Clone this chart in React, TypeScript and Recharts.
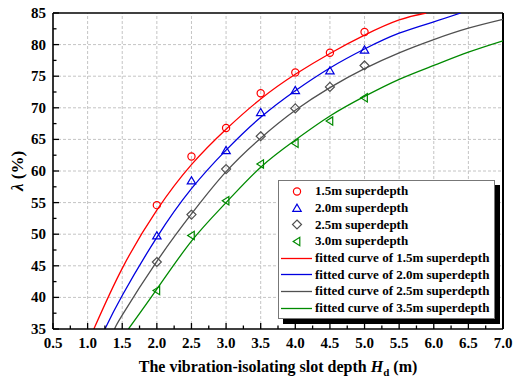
import React from 'react';
import { ComposedChart, Line, Scatter, XAxis, YAxis, ReferenceLine, Legend } from 'recharts';

// measured points (slot depth in m, lambda in %)
const depths = [2.0, 2.5, 3.0, 3.5, 4.0, 4.5, 5.0];
const measured15 = [54.6, 62.3, 66.8, 72.3, 75.6, 78.7, 82.0];
const measured20 = [49.7, 58.4, 63.2, 69.2, 72.7, 75.8, 79.1];
const measured25 = [45.6, 53.1, 60.3, 65.5, 69.9, 73.3, 76.7];
const measured30 = [41.1, 49.8, 55.3, 61.1, 64.4, 67.9, 71.6];

// fitted curves
const fitX15 = [1.09, 1.5, 2.0, 2.5, 3.0, 3.5, 4.0, 4.5, 5.0, 5.5, 5.89];
const fitY15 = [35, 44.6, 53.8, 61.0, 66.6, 71.4, 75.3, 78.6, 81.5, 83.9, 85];
const fitX20 = [1.25, 1.5, 2.0, 2.5, 3.0, 3.5, 4.0, 4.5, 5.0, 5.5, 6.0, 6.39];
const fitY20 = [35, 40.3, 49.5, 57.2, 63.3, 68.5, 72.7, 76.3, 79.3, 81.8, 83.6, 85];
const fitX25 = [1.39, 1.5, 2.0, 2.5, 3.0, 3.5, 4.0, 4.5, 5.0, 5.5, 6.0, 6.5, 7.0];
const fitY25 = [35, 37.2, 45.7, 53.2, 59.9, 65.2, 69.6, 73.2, 76.2, 78.7, 80.8, 82.6, 84.0];
const fitX30 = [1.59, 2.0, 2.5, 3.0, 3.5, 4.0, 4.5, 5.0, 5.5, 6.0, 6.5, 7.0];
const fitY30 = [35, 41.3, 48.9, 55.0, 60.6, 64.9, 68.7, 71.8, 74.5, 76.7, 78.8, 80.6];

const xMajorTicks = [0.5, 1.0, 1.5, 2.0, 2.5, 3.0, 3.5, 4.0, 4.5, 5.0, 5.5, 6.0, 6.5, 7.0];
const xMinorTicks = [0.75, 1.25, 1.75, 2.25, 2.75, 3.25, 3.75, 4.25, 4.75, 5.25, 5.75, 6.25, 6.75];
const yMajorTicks = [35, 40, 45, 50, 55, 60, 65, 70, 75, 80, 85];
const yMinorTicks = [37.5, 42.5, 47.5, 52.5, 57.5, 62.5, 67.5, 72.5, 77.5, 82.5];

const seriesNames = ['1.5m superdepth', '2.0m superdepth', '2.5m superdepth', '3.0m superdepth'];
const fitNames = [
  'fitted curve of 1.5m superdepth',
  'fitted curve of 2.0m superdepth',
  'fitted curve of 2.5m superdepth',
  'fitted curve of 3.5m superdepth',
];
const colors = ['#ff0000', '#0000e0', '#505050', '#008a00'];
const shapes = ['circle', 'up', 'diamond', 'left'];

const FONT = '"Liberation Serif", "Times New Roman", serif';

const toPoints = (xs: number[], ys: number[]) => xs.map((x, i) => ({ x, y: ys[i] }));
const measured = [measured15, measured20, measured25, measured30].map((ys) => toPoints(depths, ys));
const fitted = [
  toPoints(fitX15, fitY15),
  toPoints(fitX20, fitY20),
  toPoints(fitX25, fitY25),
  toPoints(fitX30, fitY30),
];

const isMajor = (list: number[], v: number) => list.some((t) => Math.abs(t - v) < 1e-6);

const Marker = ({ kind, cx, cy, color }: { kind: string; cx: number; cy: number; color: string }) => {
  const common = { fill: 'none', stroke: color, strokeWidth: 1.2 };
  if (kind === 'circle') return <circle cx={cx} cy={cy} r={3.6} {...common} />;
  if (kind === 'up')
    return <polygon points={`${cx},${cy - 4.4} ${cx - 4.2},${cy + 2.8} ${cx + 4.2},${cy + 2.8}`} {...common} />;
  if (kind === 'diamond')
    return <polygon points={`${cx},${cy - 4.5} ${cx + 4.5},${cy} ${cx},${cy + 4.5} ${cx - 4.5},${cy}`} {...common} />;
  return <polygon points={`${cx - 3.8},${cy} ${cx + 2.8},${cy - 4.2} ${cx + 2.8},${cy + 4.2}`} {...common} />;
};

const XTick = (props: any) => {
  const { x, y, payload } = props;
  const major = isMajor(xMajorTicks, payload.value);
  return (
    <g>
      <line x1={x} y1={y} x2={x} y2={y - (major ? 6 : 3.5)} stroke="#000" strokeWidth={1.3} />
      {major && (
        <text x={x} y={y + 19} textAnchor="middle" fontFamily={FONT} fontWeight="bold" fontSize={15} fill="#000">
          {payload.value.toFixed(1)}
        </text>
      )}
    </g>
  );
};

const YTick = (props: any) => {
  const { x, y, payload } = props;
  const major = isMajor(yMajorTicks, payload.value);
  return (
    <g>
      <line x1={x} y1={y} x2={x + (major ? 6 : 3.5)} y2={y} stroke="#000" strokeWidth={1.3} />
      {major && (
        <text x={x - 7} y={y + 5} textAnchor="end" fontFamily={FONT} fontWeight="bold" fontSize={15} fill="#000">
          {payload.value}
        </text>
      )}
    </g>
  );
};

const XTitle = (props: any) => {
  const { x, y, width } = props.viewBox;
  return (
    <text x={x + width / 2} y={y + 43} textAnchor="middle" fontFamily={FONT} fontWeight="bold" fontSize={16} fill="#000">
      The vibration-isolating slot depth <tspan fontStyle="italic">H</tspan>
      <tspan dy={4} fontSize={11}>d</tspan>
      <tspan dy={-4}> (m)</tspan>
    </text>
  );
};

const YTitle = (props: any) => {
  const { y, height } = props.viewBox;
  const cy = y + height / 2;
  return (
    <text
      x={23}
      y={cy}
      transform={`rotate(-90, 23, ${cy})`}
      textAnchor="middle"
      fontFamily={FONT}
      fontWeight="bold"
      fontSize={17}
      fill="#000"
    >
      <tspan fontStyle="italic">λ</tspan> (%)
    </text>
  );
};

const LegendBox = () => {
  const row = { display: 'flex', alignItems: 'center', height: 16.7 } as const;
  const label = { fontFamily: FONT, fontWeight: 'bold' as const, fontSize: 13, color: '#000', whiteSpace: 'nowrap' as const };
  return (
    <div
      style={{
        width: 217,
        boxSizing: 'border-box',
        border: '1px solid #777',
        background: '#fff',
        boxShadow: '5px 5px 0 #000',
        padding: '2px 0 1px 0',
      }}
    >
      {seriesNames.map((name, i) => (
        <div key={name} style={row}>
          <svg width={36} height={17}>
            <Marker kind={shapes[i]} cx={18} cy={8.5} color={colors[i]} />
          </svg>
          <span style={label}>{name}</span>
        </div>
      ))}
      {fitNames.map((name, i) => (
        <div key={name} style={row}>
          <svg width={36} height={17}>
            <line x1={2} y1={8.5} x2={33} y2={8.5} stroke={colors[i]} strokeWidth={1.3} />
          </svg>
          <span style={label}>{name}</span>
        </div>
      ))}
    </div>
  );
};

export default function App() {
  return (
    <div style={{ position: 'absolute', left: 0, top: 0, width: 519, height: 380, background: '#fff' }}>
      <ComposedChart width={519} height={380} margin={{ top: 13, right: 16, bottom: 0, left: 0 }}>
        <XAxis
          type="number"
          dataKey="x"
          domain={[0.5, 7]}
          ticks={[...xMajorTicks, ...xMinorTicks].sort((a, b) => a - b)}
          interval={0}
          allowDataOverflow
          height={51}
          tickSize={0}
          tickMargin={0}
          tickLine={false}
          axisLine={{ stroke: '#000', strokeWidth: 1.6 }}
          tick={XTick}
          label={<XTitle />}
        />
        <YAxis
          type="number"
          dataKey="y"
          domain={[35, 85]}
          ticks={[...yMajorTicks, ...yMinorTicks].sort((a, b) => a - b)}
          interval={0}
          allowDataOverflow
          width={53}
          tickSize={0}
          tickMargin={0}
          tickLine={false}
          axisLine={{ stroke: '#000', strokeWidth: 1.6 }}
          tick={YTick}
          label={<YTitle />}
        />
        {xMajorTicks.slice(1, -1).map((v) => (
          <ReferenceLine key={'gx' + v} x={v} stroke="#c4c4c4" strokeDasharray="3 2" strokeWidth={1} />
        ))}
        {yMajorTicks.slice(1, -1).map((v) => (
          <ReferenceLine key={'gy' + v} y={v} stroke="#c4c4c4" strokeDasharray="3 2" strokeWidth={1} />
        ))}
        <ReferenceLine y={85} stroke="#000" strokeWidth={1.6} />
        <ReferenceLine x={7} stroke="#000" strokeWidth={2} />
        {fitted.map((pts, i) => (
          <Line
            key={fitNames[i]}
            data={pts}
            dataKey="y"
            name={fitNames[i]}
            type="natural"
            stroke={colors[i]}
            strokeWidth={1.3}
            dot={false}
            activeDot={false}
            isAnimationActive={false}
          />
        ))}
        {measured.map((pts, i) => (
          <Scatter
            key={seriesNames[i]}
            data={pts}
            dataKey="y"
            name={seriesNames[i]}
            isAnimationActive={false}
            shape={(p: any) => <Marker kind={shapes[i]} cx={p.cx} cy={p.cy} color={colors[i]} />}
          />
        ))}
        <Legend
          layout="vertical"
          align="center"
          verticalAlign="middle"
          content={<LegendBox />}
          wrapperStyle={{ position: 'absolute', left: 278, top: 180, width: 217, height: 'auto' }}
        />
      </ComposedChart>
    </div>
  );
}
